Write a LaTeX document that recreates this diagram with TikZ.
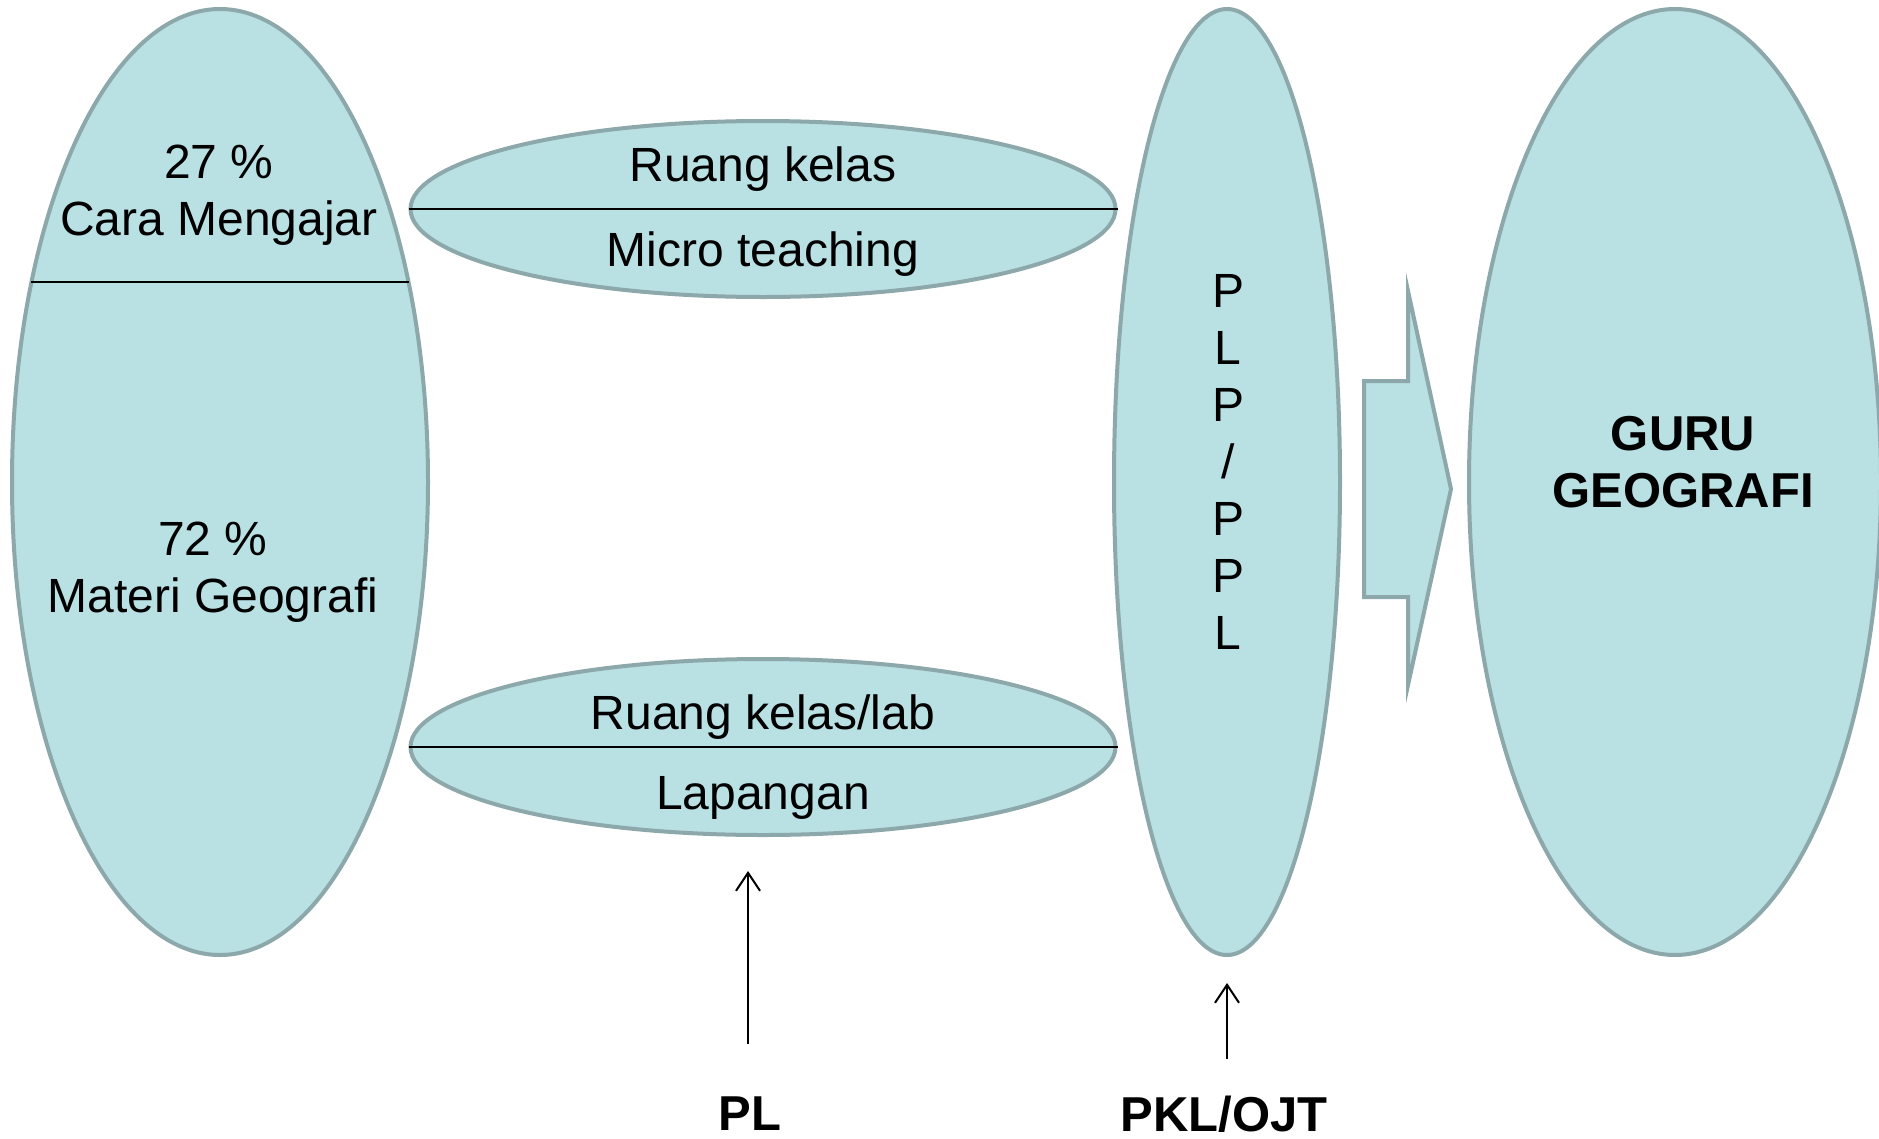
\documentclass[tikz,border=0pt]{standalone}
\usepackage{fontspec}
\setmainfont{Liberation Sans}
\usetikzlibrary{shapes.geometric,arrows.meta}
\definecolor{isi}{RGB}{185,224,227}
\definecolor{garis}{RGB}{140,168,170}
\tikzset{
  blob/.style={ellipse,draw=garis,fill=isi,line width=4pt,inner sep=0pt},
  teks/.style={font=\fontsize{48}{57}\selectfont,align=center,inner sep=0pt},
  tebal/.style={font=\fontsize{49}{57}\selectfont\bfseries,align=center,inner sep=0pt},
  pisah/.style={line width=2pt,black},
  panah/.style={line width=2pt,-{Straight Barb[length=18pt,width=24pt]}}
}
\begin{document}
\begin{tikzpicture}[x=1pt,y=-1pt]
  \useasboundingbox (0,0) rectangle (1879,1138);
  % ellipses
  \node[blob,minimum width=416,minimum height=946] (kuliah) at (220,482) {};
  \node[blob,minimum width=705,minimum height=176] (micro) at (763,209) {};
  \node[blob,minimum width=705,minimum height=176] (lapang) at (763,747) {};
  \node[blob,minimum width=226,minimum height=946] (plp) at (1227,482) {};
  \node[blob,minimum width=412,minimum height=946] (guru) at (1675,482) {};
  % dividers
  \draw[pisah] (31,282) -- (409,282);
  \draw[pisah] (micro.west) -- (micro.east);
  \draw[pisah] (lapang.west) -- (lapang.east);
  % block arrow
  \draw[draw=garis,fill=isi,line width=4pt]
    (1364,381) -- (1408,381) -- (1408,291) -- (1451,489)
    -- (1408,685) -- (1408,597) -- (1364,597) -- cycle;
  % texts
  \node[teks] (persen1) at (219,195) {27 \%\\Cara Mengajar};
  \node[teks] (persen2) at (213,572) {72 \%\\Materi Geografi};
  \node[teks] (kelas) at (763,169) {Ruang kelas};
  \node[teks] (teach) at (763,254) {Micro teaching};
  \node[teks] (lab) at (763,717) {Ruang kelas/lab};
  \node[teks] (lap) at (763,798) {Lapangan};
  \node[teks] (huruf) at (1228,462) {P\\L\\P\\/\\P\\P\\L};
  \node[tebal] (judul) at (1683,462) {GURU\\GEOGRAFI};
  \node[tebal] (pl) at (750,1114) {PL};
  \node[tebal] (pkl) at (1224,1114) {PKL/OJT};
  % arrows
  \coordinate (ujungpl) at (748,871);
  \coordinate (ujungpkl) at (1227,983);
  \draw[panah] (pl.north -| ujungpl) ++(0,-53) -- (ujungpl);
  \draw[panah] (pkl.north -| ujungpkl) ++(0,-37) -- (ujungpkl);
\end{tikzpicture}
\end{document}
